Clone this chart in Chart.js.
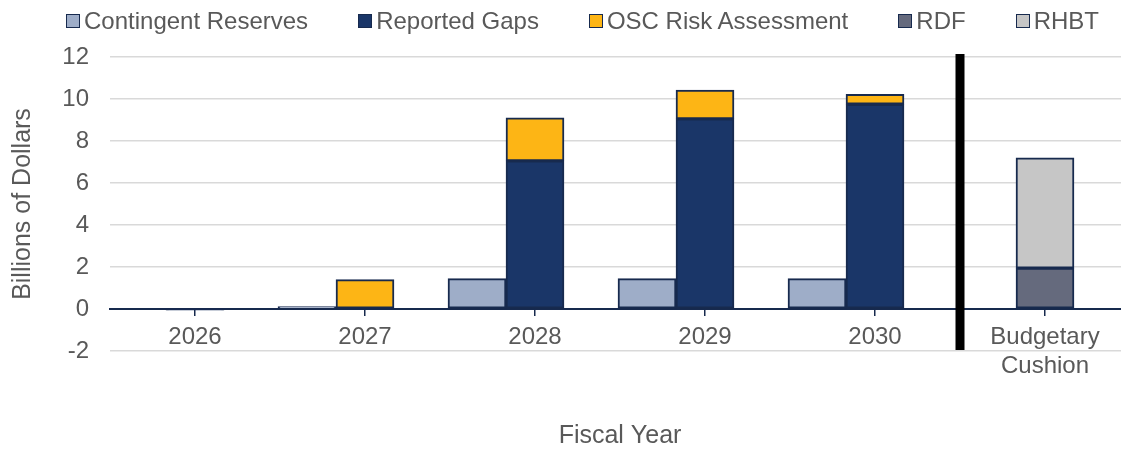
<!DOCTYPE html>
<html>
<head>
<meta charset="utf-8">
<script src="https://cdn.jsdelivr.net/npm/chart.js@4.4.1/dist/chart.umd.min.js"></script>
<style>
  html, body { margin: 0; padding: 0; background: #fff; overflow: hidden; }
  #wrap { position: relative; width: 1130px; height: 453px; }
  #legend {
    position: absolute; left: 66px; top: 7px;
    display: flex; align-items: center;
    font: 24px "Liberation Sans", Arial, sans-serif; color: #595959;
    white-space: nowrap;
  }
  .item { display: flex; align-items: center; margin-right: 50px; }
  .box { width: 12px; height: 12px; border: 1.5px solid #172a4e; margin-right: 4px; }
</style>
</head>
<body>
<div id="wrap">
  <canvas id="budgetChart" width="1130" height="453"></canvas>
  <div id="legend"></div>
</div>
<script>
// fiscal years plus the cushion column
const years = ["2026", "2027", "2028", "2029", "2030", ["Budgetary", "Cushion"]];

// billions of dollars
const contingentReserves = [null, 0.12, 1.45, 1.45, 1.45, null];
const reportedGaps = [-0.06, null, 7.05, 9.05, 9.75, null];
const oscRiskAssessment = [null, 1.4, 2.05, 1.38, 0.47, null];
const rdf = [null, null, null, null, null, 1.95];
const rhbt = [null, null, null, null, null, 5.25];

const yTicks = [-2, 0, 2, 4, 6, 8, 10, 12];

const textColor = "#595959";
const edge = "#172a4e";
const font = "'Liberation Sans', Arial, sans-serif";

const series = [
  { label: "Contingent Reserves", data: contingentReserves, color: "#9eadc8", stack: "reserves" },
  { label: "Reported Gaps", data: reportedGaps, color: "#1a3668", stack: "gaps" },
  { label: "OSC Risk Assessment", data: oscRiskAssessment, color: "#fdb515", stack: "gaps" },
  { label: "RDF", data: rdf, color: "#656a7d", stack: "gaps" },
  { label: "RHBT", data: rhbt, color: "#c6c6c6", stack: "gaps" },
];

const datasets = series.map((s) => ({
  label: s.label,
  data: s.data,
  stack: s.stack,
  backgroundColor: s.color,
  borderColor: edge,
  borderWidth: 2,
  borderSkipped: false,
  barThickness: 58,
}));
// empty third slot so the gaps stack sits centred on each year
datasets.push({ label: "", data: years.map(() => null), stack: "pad", barThickness: 58 });

// vertical bar separating the projections from the cushion
const divider = {
  id: "divider",
  afterDatasetsDraw(chart) {
    const { ctx, chartArea, scales } = chart;
    const px = scales.x.getPixelForValue(years.length - 1.5);
    ctx.save();
    ctx.fillStyle = "#000";
    ctx.fillRect(px - 4.5, chartArea.top - 3, 9, chartArea.bottom - chartArea.top + 2);
    ctx.restore();
  },
};

new Chart(document.getElementById("budgetChart"), {
  type: "bar",
  data: { labels: years, datasets },
  plugins: [divider],
  options: {
    responsive: false,
    animation: false,
    layout: { padding: { top: 57, left: 0, right: 0, bottom: 0 } },
    plugins: { legend: { display: false }, tooltip: { enabled: false } },
    scales: {
      x: {
        stacked: true,
        position: { y: 0 },
        grid: { drawOnChartArea: false, offset: false, tickLength: 6, color: edge, lineWidth: 1.5 },
        border: { display: true, color: edge, width: 2 },
        ticks: { color: textColor, font: { family: font, size: 24 }, padding: 8, maxRotation: 0 },
      },
      x2: {
        type: "category",
        axis: "x",
        position: "bottom",
        labels: years,
        grid: { display: false },
        border: { display: false },
        ticks: { display: false },
        title: { display: true, text: "Fiscal Year", color: textColor, font: { family: font, size: 25 }, padding: { bottom: 2 } },
        afterFit: (s) => { s.height = 102; },
      },
      y: {
        stacked: true,
        min: yTicks[0],
        max: yTicks[yTicks.length - 1],
        afterBuildTicks: (s) => { s.ticks = yTicks.map((v) => ({ value: v })); },
        grid: { color: "#d9d9d9", lineWidth: 1.5, drawTicks: false },
        border: { display: false },
        ticks: { color: textColor, font: { family: font, size: 24 }, padding: 21 },
        title: { display: true, text: "Billions of Dollars", color: textColor, font: { family: font, size: 25 }, padding: { top: 8 } },
        afterFit: (s) => { s.width = 110; },
      },
    },
  },
});

// legend row
const legend = document.getElementById("legend");
series.forEach((s) => {
  const item = document.createElement("div");
  item.className = "item";
  const box = document.createElement("span");
  box.className = "box";
  box.style.background = s.color;
  const txt = document.createElement("span");
  txt.textContent = s.label;
  item.append(box, txt);
  legend.appendChild(item);
});
</script>
</body>
</html>
